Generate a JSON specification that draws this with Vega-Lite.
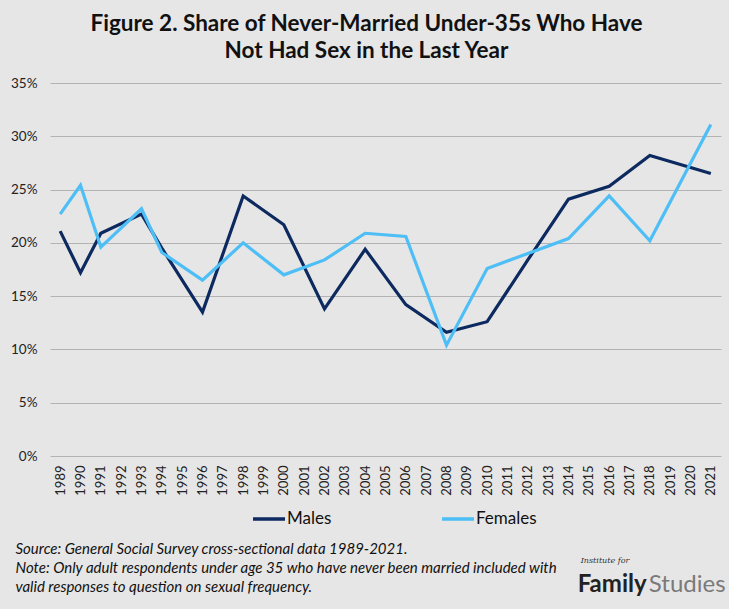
{
  "$schema": "https://vega.github.io/schema/vega-lite/v6.json",
  "width": 671,
  "height": 373,
  "autosize": {"type": "none"},
  "padding": {"left": 50, "top": 83, "right": 8, "bottom": 153},
  "background": "#e7e6e6",
  "config": {
    "font": "Lato",
    "view": {"stroke": null},
    "axisX": {"labelOverlap": false}
  },
  "title": {
    "text": ["Figure 2. Share of Never-Married Under-35s Who Have", "Not Had Sex in the Last Year"],
    "font": "Lato",
    "fontSize": 22.5,
    "fontWeight": "bold",
    "color": "#111111",
    "lineHeight": 27,
    "anchor": "middle",
    "dx": -19,
    "offset": 14
  },
  "resolve": {"axis": {"x": "independent", "y": "independent"}},
  "layer": [
    {
      "data": {
        "values": [
          {"year": 1989, "sex": "Males", "value": 0.211},
          {"year": 1990, "sex": "Males", "value": 0.172},
          {"year": 1991, "sex": "Males", "value": 0.209},
          {"year": 1993, "sex": "Males", "value": 0.227},
          {"year": 1994, "sex": "Males", "value": 0.195},
          {"year": 1996, "sex": "Males", "value": 0.135},
          {"year": 1998, "sex": "Males", "value": 0.244},
          {"year": 2000, "sex": "Males", "value": 0.217},
          {"year": 2002, "sex": "Males", "value": 0.138},
          {"year": 2004, "sex": "Males", "value": 0.194},
          {"year": 2006, "sex": "Males", "value": 0.142},
          {"year": 2008, "sex": "Males", "value": 0.116},
          {"year": 2010, "sex": "Males", "value": 0.126},
          {"year": 2012, "sex": "Males", "value": 0.184},
          {"year": 2014, "sex": "Males", "value": 0.241},
          {"year": 2016, "sex": "Males", "value": 0.253},
          {"year": 2018, "sex": "Males", "value": 0.282},
          {"year": 2021, "sex": "Males", "value": 0.265},
          {"year": 1989, "sex": "Females", "value": 0.227},
          {"year": 1990, "sex": "Females", "value": 0.254},
          {"year": 1991, "sex": "Females", "value": 0.196},
          {"year": 1993, "sex": "Females", "value": 0.232},
          {"year": 1994, "sex": "Females", "value": 0.191},
          {"year": 1996, "sex": "Females", "value": 0.165},
          {"year": 1998, "sex": "Females", "value": 0.200},
          {"year": 2000, "sex": "Females", "value": 0.170},
          {"year": 2002, "sex": "Females", "value": 0.184},
          {"year": 2004, "sex": "Females", "value": 0.209},
          {"year": 2006, "sex": "Females", "value": 0.206},
          {"year": 2008, "sex": "Females", "value": 0.104},
          {"year": 2010, "sex": "Females", "value": 0.176},
          {"year": 2012, "sex": "Females", "value": 0.190},
          {"year": 2014, "sex": "Females", "value": 0.204},
          {"year": 2016, "sex": "Females", "value": 0.244},
          {"year": 2018, "sex": "Females", "value": 0.202},
          {"year": 2021, "sex": "Females", "value": 0.311}
        ]
      },
      "mark": {"type": "line", "strokeWidth": 3.2, "strokeJoin": "miter"},
      "encoding": {
        "x": {
          "field": "year",
          "type": "quantitative",
          "scale": {"domain": [1988.5, 2021.5], "nice": false, "zero": false},
          "axis": {
            "values": [1989,1990,1991,1992,1993,1994,1995,1996,1997,1998,1999,2000,2001,2002,2003,2004,2005,2006,2007,2008,2009,2010,2011,2012,2013,2014,2015,2016,2017,2018,2019,2020,2021],
            "format": "d",
            "labelAngle": -90,
            "labelFontSize": 13,
            "labelColor": "#222222",
            "labelPadding": 9,
            "labelOverlap": false,
            "labelFlush": false,
            "labelBound": false,
            "ticks": false,
            "grid": false,
            "domain": false,
            "title": ["Source: General Social Survey cross-sectional data 1989-2021.", "Note: Only adult respondents under age 35 who have never been married included with", "valid responses to question on sexual frequency."],
            "titleFont": "Lato",
            "titleFontStyle": "italic",
            "titleFontWeight": "normal",
            "titleFontSize": 15,
            "titleColor": "#111111",
            "titleLineHeight": 19,
            "titleAlign": "left",
            "titleAnchor": "start",
            "titleBaseline": "alphabetic",
            "titleX": -35,
            "titleY": 97
          }
        },
        "y": {
          "field": "value",
          "type": "quantitative",
          "scale": {"domain": [0, 0.35], "nice": false},
          "axis": {
            "values": [0, 0.05, 0.1, 0.15, 0.2, 0.25, 0.3, 0.35],
            "format": ".0%",
            "labelFontSize": 13.5,
            "labelColor": "#222222",
            "labelPadding": 13,
            "ticks": false,
            "domain": false,
            "grid": true,
            "gridColor": "#b3b3b3",
            "gridWidth": 1.2,
            "title": null
          }
        },
        "color": {
          "field": "sex",
          "type": "nominal",
          "scale": {"domain": ["Males", "Females"], "range": ["#0c2a5f", "#4dbef6"]},
          "legend": {
            "title": null,
            "orient": "none",
            "direction": "horizontal",
            "legendX": 201,
            "legendY": 418,
            "symbolType": "stroke",
            "symbolStrokeWidth": 3.5,
            "symbolSize": 1024,
            "labelFontSize": 17,
            "labelColor": "#111111",
            "labelOffset": 0,
            "columnPadding": 103
          }
        }
      }
    },
    {
      "data": {"values": [{"t": "Institute for"}]},
      "mark": {"type": "text", "font": "DejaVu Serif", "fontStyle": "italic", "fontSize": 8, "align": "left", "baseline": "alphabetic", "color": "#333333"},
      "encoding": {
        "x": {"datum": 2014.6, "type": "quantitative", "axis": null},
        "y": {"datum": -0.1, "type": "quantitative", "axis": null},
        "text": {"field": "t"}
      }
    },
    {
      "data": {"values": [{"t": "Family"}]},
      "mark": {"type": "text", "font": "Lato", "fontWeight": "bold", "fontSize": 24, "align": "left", "baseline": "alphabetic", "color": "#222222"},
      "encoding": {
        "x": {"datum": 2014.45, "type": "quantitative", "axis": null},
        "y": {"datum": -0.1275, "type": "quantitative", "axis": null},
        "text": {"field": "t"}
      }
    },
    {
      "data": {"values": [{"t": "Studies"}]},
      "mark": {"type": "text", "font": "Lato", "fontWeight": "normal", "fontSize": 24, "align": "left", "baseline": "alphabetic", "color": "#7a7a7a"},
      "encoding": {
        "x": {"datum": 2017.95, "type": "quantitative", "axis": null},
        "y": {"datum": -0.1275, "type": "quantitative", "axis": null},
        "text": {"field": "t"}
      }
    }
  ]
}
